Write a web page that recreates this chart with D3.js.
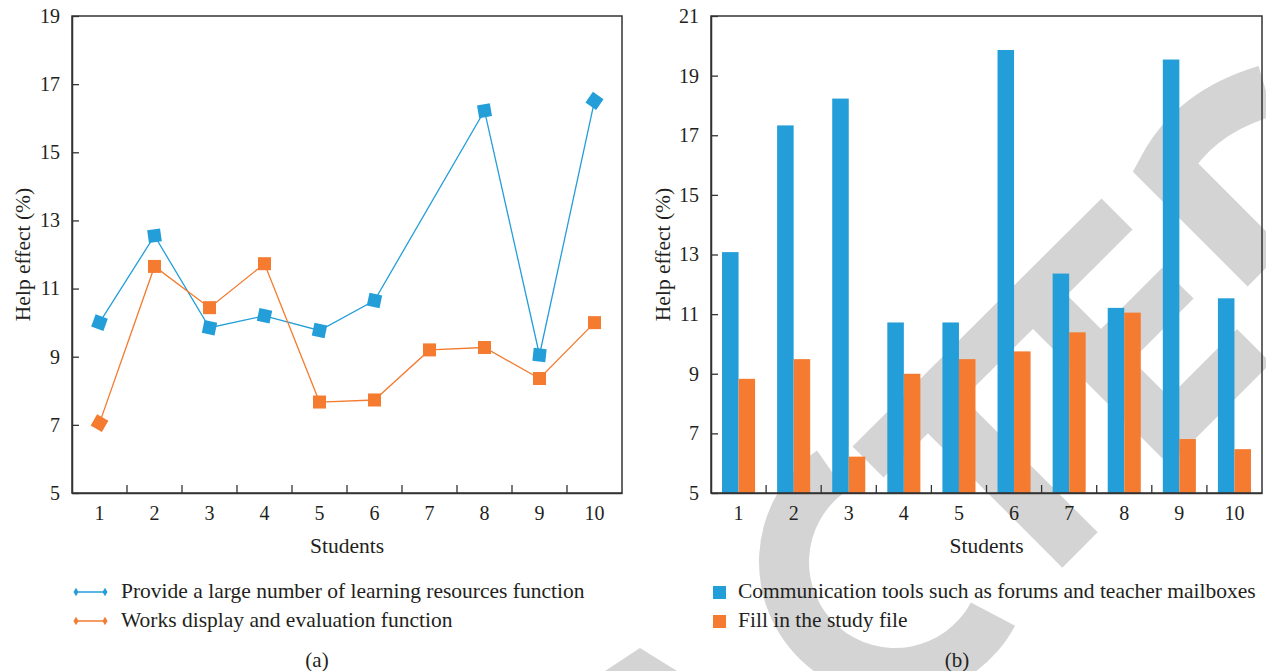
<!DOCTYPE html>
<html><head><meta charset="utf-8">
<script src="https://cdn.jsdelivr.net/npm/d3@7"></script>
<style>
body{margin:0;background:#fff}
svg text{font-family:"Liberation Serif","Times New Roman",serif;fill:#231f20}
</style>
</head><body>
<svg id="chart" width="1266" height="671"></svg>
<script>
// ---------- data ----------
const categories = ["1","2","3","4","5","6","7","8","9","10"];
// panel (a): line chart
const resourcesValues = [10.0, 12.55, 9.85, 10.2, 9.77, 10.65, null, 16.22, 9.05, 16.51];
const worksValues     = [7.05, 11.65, 10.44, 11.73, 7.67, 7.73, 9.2, 9.27, 8.36, 10.0];
// panel (b): grouped bars
const communicationValues = [13.08, 17.33, 18.23, 10.72, 10.72, 19.86, 12.36, 11.21, 19.54, 11.53];
const studyFileValues     = [8.83, 9.49, 6.22, 9.0, 9.49, 9.75, 10.39, 11.05, 6.81, 6.47];
// ticks
const leftTicks  = [5, 7, 9, 11, 13, 15, 17, 19];
const rightTicks = [5, 7, 9, 11, 13, 15, 17, 19, 21];
// texts
const xTitle = "Students";
const yTitle = "Help effect (%)";
const lineLegend = ["Provide a large number of learning resources function", "Works display and evaluation function"];
const barLegend  = ["Communication tools such as forums and teacher mailboxes", "Fill in the study file"];
// marker tilt (style only)
const resourcesTilt = [20, -8, 12, 12, 12, 12, 0, -10, 6, 35];
const worksTilt     = [30, 0, 0, 0, 0, 0, 0, 0, 0, 0];

const BLUE = "#239ed9", ORANGE = "#f47b30", AXIS = "#333", WM = "#d4d4d4";
const svg = d3.select("#chart");

// ---------- watermark (background decoration) ----------
const wm = svg.append("g");
const wmLine = (pts, w) => wm.append("path")
  .attr("d", d3.line()(pts)).attr("fill","none").attr("stroke",WM)
  .attr("stroke-width",w).attr("stroke-linecap","butt").attr("stroke-linejoin","miter");
wm.append("path")
  .attr("transform","translate(895,562)")
  .attr("d", d3.arc()({innerRadius:86, outerRadius:136, startAngle:118*Math.PI/180, endAngle:325*Math.PI/180}))
  .attr("fill",WM);
wmLine([[868,462],[1117,214]], 44);
wmLine([[930,400],[1080,550]], 50);
wmLine([[1034,296],[1169,431],[1254,346]], 48);
wmLine([[1099,362],[1178,283]], 44);
wm.append("path").attr("d","M1266,91 Q1195,112 1165,167 L1266,268")
  .attr("fill","none").attr("stroke",WM).attr("stroke-width",52).attr("stroke-linejoin","miter");
wm.append("path").attr("d","M605,671 L640,648 L677,671 Z").attr("fill",WM);

// ---------- helpers ----------
function styleAxis(g, fs){
  g.attr("font-family",null).attr("font-size",null);
  g.selectAll(".domain").attr("stroke",AXIS).attr("stroke-width",1.5);
  g.selectAll(".tick line").attr("stroke",AXIS).attr("stroke-width",1.3);
  g.selectAll(".tick text").attr("font-size",fs).attr("fill","#231f20");
}
function frame(P){
  svg.append("rect").attr("x",P.x0).attr("y",P.y0).attr("width",P.x1-P.x0).attr("height",P.y1-P.y0)
    .attr("fill","none").attr("stroke",AXIS).attr("stroke-width",1.5);
}
function axes(P, x, y, ticks, ytitleX){
  const gy = svg.append("g").attr("transform",`translate(${P.x0},0)`)
    .call(d3.axisLeft(y).tickValues(ticks).tickFormat(d3.format("d")).tickSizeInner(-7).tickSizeOuter(0).tickPadding(12));
  styleAxis(gy, 20);
  const gx = svg.append("g").attr("transform",`translate(0,${P.y1})`)
    .call(d3.axisBottom(x).tickSize(0).tickPadding(13));
  styleAxis(gx, 20);
  gx.selectAll(".tick line").remove();
  // boundary ticks between categories
  svg.append("g").selectAll("line").data(categories.slice(1)).join("line")
    .attr("x1", d => x(d) - x.step()*x.paddingInner()/2).attr("x2", d => x(d) - x.step()*x.paddingInner()/2)
    .attr("y1", P.y1).attr("y2", P.y1 - 8)
    .attr("stroke",AXIS).attr("stroke-width",1.3);
  frame(P);
  svg.append("text").attr("x",(P.x0+P.x1)/2).attr("y",553).attr("text-anchor","middle")
    .attr("font-size",21.5).text(xTitle);
  svg.append("text").attr("transform",`translate(${ytitleX},${(P.y0+P.y1)/2}) rotate(-90)`)
    .attr("dy","0.35em").attr("text-anchor","middle").attr("font-size",21.5).text(yTitle);
}

// ---------- panel (a) ----------
const A = {x0:72, x1:622, y0:16, y1:493};
const xA = d3.scaleBand().domain(categories).range([A.x0, A.x1]);
const yA = d3.scaleLinear().domain([5,19]).range([A.y1, A.y0]);
axes(A, xA, yA, leftTicks, 22);

function drawSeries(values, tilt, color){
  const pts = values.map((v,i)=>({c:categories[i], v, t:tilt[i]})).filter(d => d.v !== null);
  svg.append("path").datum(pts)
    .attr("d", d3.line().x(d => xA(d.c)+xA.bandwidth()/2).y(d => yA(d.v)))
    .attr("fill","none").attr("stroke",color).attr("stroke-width",1.3);
  svg.append("g").selectAll("rect").data(pts).join("rect")
    .attr("x",-6.5).attr("y",-6.5).attr("width",13).attr("height",13)
    .attr("transform", d => `translate(${xA(d.c)+xA.bandwidth()/2},${yA(d.v)}) rotate(${d.t})`)
    .attr("fill",color);
}
drawSeries(resourcesValues, resourcesTilt, BLUE);
drawSeries(worksValues, worksTilt, ORANGE);

// legend (a)
[BLUE, ORANGE].forEach((col,i)=>{
  const yy = 592 + i*29;
  const g = svg.append("g");
  g.append("line").attr("x1",76).attr("x2",105).attr("y1",yy).attr("y2",yy).attr("stroke",col).attr("stroke-width",1.5);
  [76,105].forEach(xx => g.append("path").attr("d",d3.symbol(d3.symbolDiamond,22)())
    .attr("transform",`translate(${xx},${yy})`).attr("fill",col));
  svg.append("text").attr("x",121).attr("y",598+i*29).attr("font-size",21.5).text(lineLegend[i]);
});
svg.append("text").attr("x",317).attr("y",667).attr("text-anchor","middle").attr("font-size",21).text("(a)");

// ---------- panel (b) ----------
const B = {x0:711, x1:1262, y0:16, y1:493};
const xB = d3.scaleBand().domain(categories).range([B.x0, B.x1]).paddingInner(0.4).paddingOuter(0.2);
const yB = d3.scaleLinear().domain([5,21]).range([B.y1, B.y0]);
const sub = d3.scaleBand().domain([0,1]).range([0, xB.bandwidth()]);
const barData = categories.map((c,i)=>({c, vals:[communicationValues[i], studyFileValues[i]]}));
const barG = svg.append("g");
barG.selectAll("g").data(barData).join("g")
  .attr("transform", d => `translate(${xB(d.c)},0)`)
  .selectAll("rect").data(d => d.vals.map((v,k)=>({k,v}))).join("rect")
  .attr("x", d => sub(d.k)).attr("width", sub.bandwidth())
  .attr("y", d => yB(d.v)).attr("height", d => yB(5) - yB(d.v))
  .attr("fill", d => d.k===0 ? BLUE : ORANGE);
axes(B, xB, yB, rightTicks, 662);

// legend (b)
[BLUE, ORANGE].forEach((col,i)=>{
  svg.append("rect").attr("x",713).attr("y",586+i*29).attr("width",13).attr("height",13).attr("fill",col);
  svg.append("text").attr("x",738).attr("y",598+i*29).attr("font-size",21.5).text(barLegend[i]);
});
svg.append("text").attr("x",957).attr("y",667).attr("text-anchor","middle").attr("font-size",21).text("(b)");
</script>
</body></html>
